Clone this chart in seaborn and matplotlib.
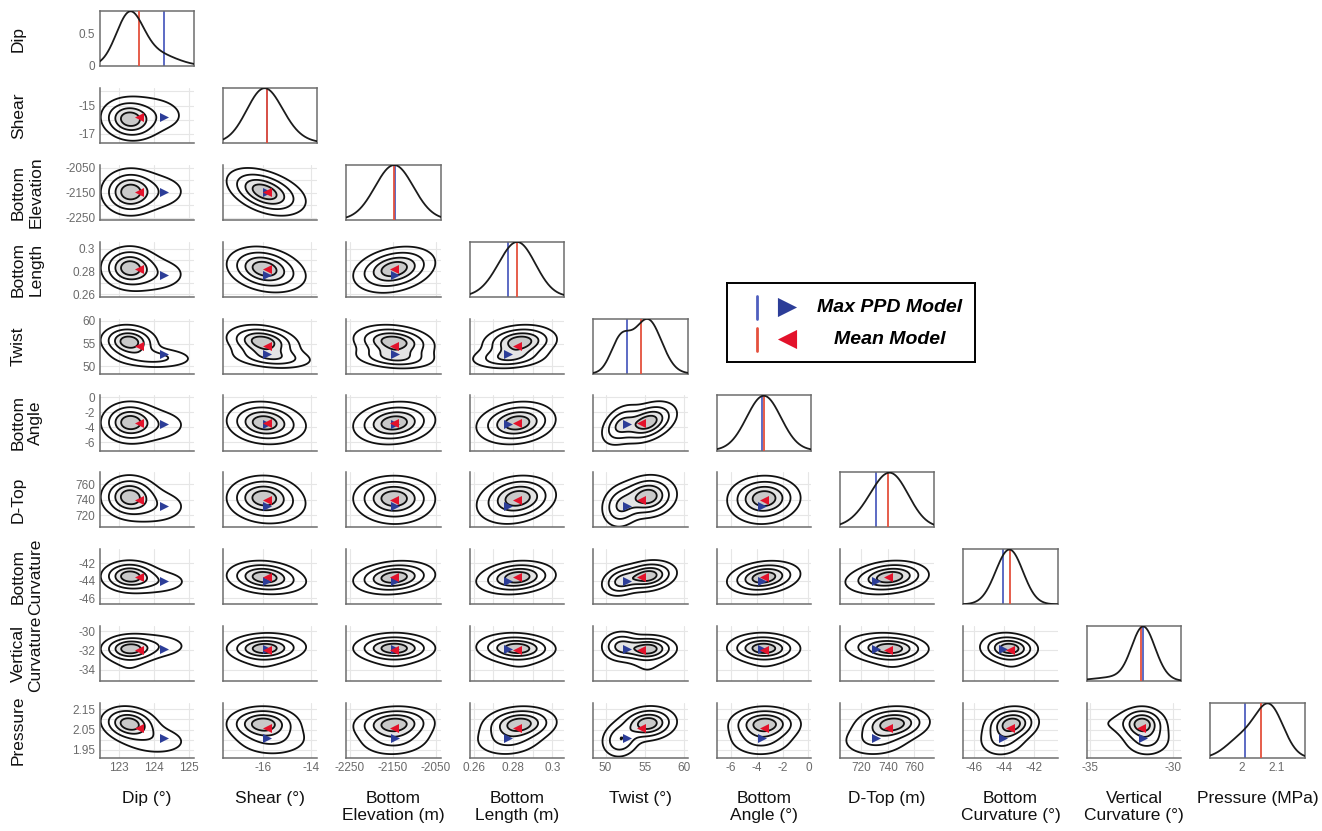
import numpy as np
import matplotlib
matplotlib.use("Agg")
import matplotlib.pyplot as plt
import seaborn as sns

# ---------------------------------------------------------------- data
row_labels = ["Dip", "Shear", "Bottom\nElevation", "Bottom\nLength", "Twist",
              "Bottom\nAngle", "D-Top", "Bottom\nCurvature", "Vertical\nCurvature",
              "Pressure"]
col_labels = ["Dip (°)", "Shear (°)", "Bottom\nElevation (m)", "Bottom\nLength (m)",
              "Twist (°)", "Bottom\nAngle (°)", "D-Top (m)", "Bottom\nCurvature (°)",
              "Vertical\nCurvature (°)", "Pressure (MPa)"]

mean_model = [123.59, -15.84, -2147.0, 0.2818, 54.5, -3.45, 740.0, -43.6, -31.95, 2.056]
max_ppd_model = [124.28, -15.84, -2145.0, 0.2772, 52.75, -3.6, 731.0, -44.05, -31.82, 2.009]

# posterior described as a three-component Gaussian mixture
comp_weights = [0.55, 0.30, 0.15]
loc_main = [123.3, -16.0, -2147.0, 0.2835, 55.4, -3.35, 744.0, -43.45, -31.85, 2.08]
scale_main = [0.38, 0.70, 44.0, 0.0088, 1.75, 1.3, 13.0, 0.85, 0.66, 0.040]
loc_tail = [124.0, -15.6, -2145.0, 0.2775, 51.9, -3.7, 731.0, -44.1, -31.55, 2.00]
scale_tail = [0.60, 0.85, 46.0, 0.0095, 1.25, 1.35, 14.0, 0.85, 0.78, 0.045]
loc_extra = [123.3, -16.0, -2147.0, 0.2835, 55.4, -3.35, 744.0, -43.45, -33.2, 2.08]
scale_extra = [0.38, 0.70, 44.0, 0.0088, 1.75, 1.3, 13.0, 0.85, 1.5, 0.040]

# within-component correlation, lower triangle (row parameter vs column parameter)
rho_rows = [
    [],
    [-0.1],
    [0.0, -0.45],
    [0.0, -0.2, 0.3],
    [-0.1, -0.25, -0.2, 0.15],
    [0.0, -0.1, 0.15, 0.15, 0.4],
    [0.0, 0.0, 0.0, 0.1, 0.1, 0.0],
    [0.0, -0.1, 0.2, 0.1, 0.2, 0.2, 0.1],
    [0.0, 0.0, 0.0, 0.0, 0.05, 0.0, 0.0, 0.0],
    [-0.15, 0.0, 0.1, 0.1, 0.1, 0.0, 0.1, 0.1, 0.0],
]

limits = [(122.45, 125.15), (-17.65, -13.75), (-2258, -2038), (0.258, 0.306),
          (48.4, 60.5), (-7.1, 0.2), (704, 775), (-46.7, -40.4), (-35.2, -29.5),
          (1.91, 2.18)]

x_ticks = [[123, 124, 125], [-16, -14], [-2250, -2150, -2050],
           [0.26, 0.27, 0.28, 0.29, 0.30], [50, 55, 60], [-6, -4, -2, 0],
           [720, 740, 760], [-46, -44, -42], [-35, -30], [2.0, 2.1]]
x_tick_labels = [["123", "124", "125"], ["-16", "-14"], ["-2250", "-2150", "-2050"],
                 ["0.26", "", "0.28", "", "0.3"], ["50", "55", "60"],
                 ["-6", "-4", "-2", "0"], ["720", "740", "760"],
                 ["-46", "-44", "-42"], ["-35", "-30"], ["2", "2.1"]]
y_ticks = [[0, 0.5], [-17, -16, -15, -14], [-2250, -2200, -2150, -2100, -2050],
           [0.26, 0.27, 0.28, 0.29, 0.30], [50, 55, 60], [-6, -4, -2, 0],
           [720, 740, 760], [-46, -44, -42], [-34, -32, -30],
           [1.95, 2.0, 2.05, 2.1, 2.15]]
y_tick_labels = [["0", "0.5"], ["-17", "", "-15", ""], ["-2250", "", "-2150", "", "-2050"],
                 ["0.26", "", "0.28", "", "0.3"], ["50", "55", "60"],
                 ["-6", "-4", "-2", "0"], ["720", "740", "760"],
                 ["-46", "-44", "-42"], ["-34", "-32", "-30"],
                 ["1.95", "", "2.05", "", "2.15"]]

contour_fractions = [0.10, 0.30, 0.56, 0.80]

# ---------------------------------------------------------------- style
sns.set_theme(style="white")
plt.rcParams["font.family"] = ["Liberation Sans", "DejaVu Sans"]

BLUE_MARK = "#2c3d98"
RED_MARK = "#e3122b"
BLUE_LINE = "#4f5fbf"
RED_LINE = "#e4503d"
SPINE = "#6d6d6d"
TICKLAB = "#6a6a6a"
GRID = "#e6e6e6"

locs = [loc_main, loc_tail, loc_extra]
scales = [scale_main, scale_tail, scale_extra]


def marginal(i, x):
    out = np.zeros_like(x, dtype=float)
    for w, lo, sc in zip(comp_weights, locs, scales):
        out += w * np.exp(-0.5 * ((x - lo[i]) / sc[i]) ** 2) / (sc[i] * np.sqrt(2 * np.pi))
    return out


def joint(i, j, X, Y):
    """density of parameter j (x axis) and parameter i (y axis)"""
    rho = rho_rows[i][j]
    out = np.zeros_like(X, dtype=float)
    for w, lo, sc in zip(comp_weights, locs, scales):
        u = (X - lo[j]) / sc[j]
        v = (Y - lo[i]) / sc[i]
        q = (u * u - 2 * rho * u * v + v * v) / (1 - rho ** 2)
        out += w * np.exp(-0.5 * q) / (2 * np.pi * sc[i] * sc[j] * np.sqrt(1 - rho ** 2))
    return out


W, H = 1322, 831
fig = plt.figure(figsize=(W / 100, H / 100), dpi=100)
fig.patch.set_facecolor("white")

ax_w, ax_h = 94.5, 55.0
col_left = [99.5 + 123.4 * k for k in range(10)]
row_top = [11.0 + 76.9 * k for k in range(10)]


def rect(r, c):
    return [col_left[c] / W, 1 - (row_top[r] + ax_h) / H, ax_w / W, ax_h / H]


n = len(row_labels)
for r in range(n):
    for c in range(r + 1):
        ax = fig.add_axes(rect(r, c))
        ax.set_facecolor("white")
        if r == c:
            xs = np.linspace(limits[c][0], limits[c][1], 400)
            ys = marginal(c, xs)
            ax.axvline(max_ppd_model[c], color=BLUE_LINE, lw=1.3, zorder=2)
            ax.axvline(mean_model[c], color=RED_LINE, lw=1.3, zorder=3)
            sns.lineplot(x=xs, y=ys, ax=ax, color="#1c1c1c", lw=1.3, zorder=4)
            ax.set_ylim(0, ys.max() * 1.005)
            for s in ax.spines.values():
                s.set_visible(True)
                s.set_color(SPINE)
                s.set_linewidth(1.1)
            if c == 0:
                ax.set_yticks(y_ticks[0])
                ax.set_yticklabels(y_tick_labels[0])
            else:
                ax.set_yticks([])
        else:
            xs = np.linspace(limits[c][0], limits[c][1], 55)
            ys = np.linspace(limits[r][0], limits[r][1], 55)
            X, Y = np.meshgrid(xs, ys)
            Z = joint(r, c, X, Y)
            zmax = Z.max()
            lv = [f * zmax for f in contour_fractions]
            ax.contourf(X, Y, Z, levels=[lv[2], lv[3], zmax * 1.01],
                        colors=["#e4e4e4", "#c9c9c9"], zorder=1)
            ax.contour(X, Y, Z, levels=lv, colors="#111111", linewidths=1.3, zorder=2)
            sns.scatterplot(x=[max_ppd_model[c]], y=[max_ppd_model[r]], ax=ax,
                            marker=">", s=42, color=BLUE_MARK, linewidth=0, zorder=5)
            sns.scatterplot(x=[mean_model[c]], y=[mean_model[r]], ax=ax,
                            marker="<", s=42, color=RED_MARK, linewidth=0, zorder=6)
            ax.set_ylim(limits[r])
            ax.set_yticks(y_ticks[r])
            ax.set_yticklabels(y_tick_labels[r] if c == 0 else [])
            ax.grid(True, color=GRID, lw=0.8)
            ax.set_axisbelow(True)
            for side in ("top", "right"):
                ax.spines[side].set_visible(False)
            for side in ("left", "bottom"):
                ax.spines[side].set_color(SPINE)
                ax.spines[side].set_linewidth(1.1)
        ax.set_xlim(limits[c])
        ax.set_xticks(x_ticks[c])
        ax.set_xticklabels(x_tick_labels[c] if r == n - 1 else [])
        ax.set_xlabel("")
        ax.set_ylabel("")
        ax.tick_params(direction="in", length=2.5, width=0.8, color=SPINE,
                       labelsize=8.5, labelcolor=TICKLAB, pad=3)

# parameter names
for r, lab in enumerate(row_labels):
    yc = 1 - (row_top[r] + ax_h / 2) / H
    fig.text(11 / W, yc, lab, rotation=90, ha="left", va="center", fontsize=12.5,
             multialignment="center", linespacing=1.2, color="#111111")
for c, lab in enumerate(col_labels):
    xc = (col_left[c] + ax_w / 2) / W
    fig.text(xc, 1 - 791 / H, lab, ha="center", va="top", fontsize=12.5,
             multialignment="center", linespacing=1.2, color="#111111")

# legend box
lg = fig.add_axes([727 / W, 1 - 362 / H, 248 / W, 79 / H])
lg.set_xlim(0, 248)
lg.set_ylim(79, 0)
lg.set_xticks([])
lg.set_yticks([])
for s in lg.spines.values():
    s.set_visible(True)
    s.set_color("black")
    s.set_linewidth(1.4)
lg.plot([30, 30], [13, 36], color=BLUE_LINE, lw=2)
lg.plot([30, 30], [45, 68], color=RED_LINE, lw=2)
lg.scatter([60], [24], marker=">", s=190, color=BLUE_MARK, linewidths=0)
lg.scatter([60], [56], marker="<", s=190, color=RED_MARK, linewidths=0)
lg.text(163, 24, "Max PPD Model", ha="center", va="center", fontsize=14,
        fontweight="bold", fontstyle="italic", color="black")
lg.text(163, 56, "Mean Model", ha="center", va="center", fontsize=14,
        fontweight="bold", fontstyle="italic", color="black")

fig.savefig("out.png", dpi=100, facecolor="white")
